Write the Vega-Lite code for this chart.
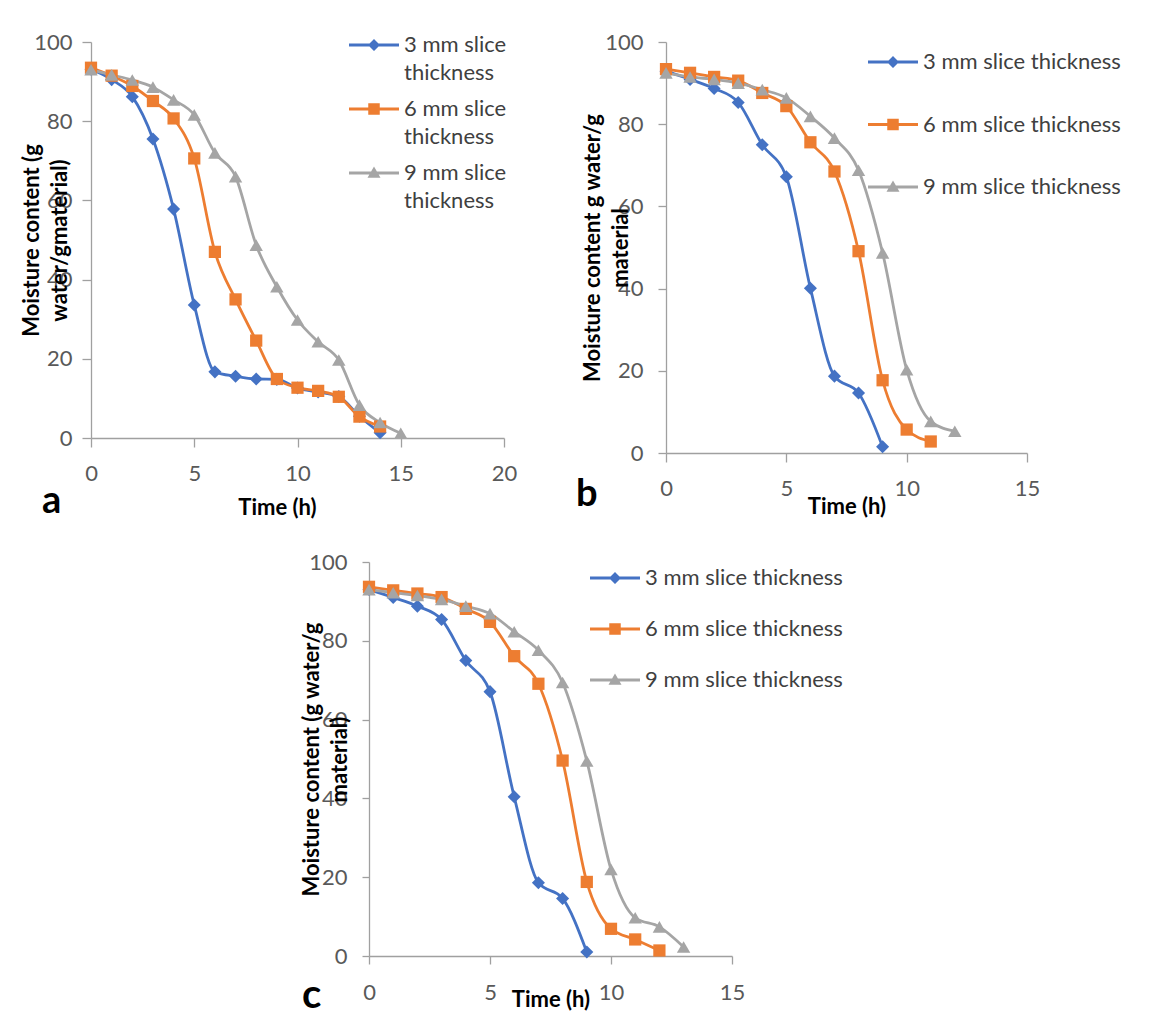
{
  "$schema": "https://vega.github.io/schema/vega-lite/v6.json",
  "background": "white",
  "padding": {"left": 20, "top": 20, "right": 5, "bottom": 5},
  "config": {
    "font": "Lato",
    "view": {"stroke": null},
    "axis": {"grid": false, "domainColor": "#a0a0a0", "tickColor": "#a0a0a0", "domainWidth": 1.3, "tickWidth": 1.3, "labelColor": "#595959", "labelFontSize": 22, "labelFont": "Lato", "titleFont": "Lato", "titleFontSize": 22, "titleFontWeight": "bold", "titleColor": "#000000", "tickSize": 9, "labelFlush": false, "labelOverlap": false, "titleLineHeight": 28},
    "legend": {"labelFont": "Lato", "labelFontSize": 22, "labelColor": "#404040", "padding": 0, "symbolSize": 2500, "symbolStrokeWidth": 0, "labelOffset": 5, "title": null, "labelLimit": 400},
    "title": {"font": "Lato", "fontWeight": "bold", "color": "#000000"}
  },
  "datasets": {
    "d": [
      {"panel": "a", "series": "3 mm slice thickness", "t": 0, "mc": 93.1},
      {"panel": "a", "series": "3 mm slice thickness", "t": 1, "mc": 90.5},
      {"panel": "a", "series": "3 mm slice thickness", "t": 2, "mc": 86.2},
      {"panel": "a", "series": "3 mm slice thickness", "t": 3, "mc": 75.5},
      {"panel": "a", "series": "3 mm slice thickness", "t": 4, "mc": 57.8},
      {"panel": "a", "series": "3 mm slice thickness", "t": 5, "mc": 33.6},
      {"panel": "a", "series": "3 mm slice thickness", "t": 6, "mc": 16.7},
      {"panel": "a", "series": "3 mm slice thickness", "t": 7, "mc": 15.6},
      {"panel": "a", "series": "3 mm slice thickness", "t": 8, "mc": 14.9},
      {"panel": "a", "series": "3 mm slice thickness", "t": 9, "mc": 14.8},
      {"panel": "a", "series": "3 mm slice thickness", "t": 10, "mc": 12.6},
      {"panel": "a", "series": "3 mm slice thickness", "t": 11, "mc": 11.6},
      {"panel": "a", "series": "3 mm slice thickness", "t": 12, "mc": 10.5},
      {"panel": "a", "series": "3 mm slice thickness", "t": 13, "mc": 5.5},
      {"panel": "a", "series": "3 mm slice thickness", "t": 14, "mc": 1.3},
      {"panel": "a", "series": "6 mm slice thickness", "t": 0, "mc": 93.5},
      {"panel": "a", "series": "6 mm slice thickness", "t": 1, "mc": 91.5},
      {"panel": "a", "series": "6 mm slice thickness", "t": 2, "mc": 88.9},
      {"panel": "a", "series": "6 mm slice thickness", "t": 3, "mc": 85.1},
      {"panel": "a", "series": "6 mm slice thickness", "t": 4, "mc": 80.7},
      {"panel": "a", "series": "6 mm slice thickness", "t": 5, "mc": 70.6},
      {"panel": "a", "series": "6 mm slice thickness", "t": 6, "mc": 47.0},
      {"panel": "a", "series": "6 mm slice thickness", "t": 7, "mc": 35.0},
      {"panel": "a", "series": "6 mm slice thickness", "t": 8, "mc": 24.6},
      {"panel": "a", "series": "6 mm slice thickness", "t": 9, "mc": 14.9},
      {"panel": "a", "series": "6 mm slice thickness", "t": 10, "mc": 12.7},
      {"panel": "a", "series": "6 mm slice thickness", "t": 11, "mc": 11.9},
      {"panel": "a", "series": "6 mm slice thickness", "t": 12, "mc": 10.4},
      {"panel": "a", "series": "6 mm slice thickness", "t": 13, "mc": 5.4},
      {"panel": "a", "series": "6 mm slice thickness", "t": 14, "mc": 2.9},
      {"panel": "a", "series": "9 mm slice thickness", "t": 0, "mc": 93.0},
      {"panel": "a", "series": "9 mm slice thickness", "t": 1, "mc": 91.7},
      {"panel": "a", "series": "9 mm slice thickness", "t": 2, "mc": 90.4},
      {"panel": "a", "series": "9 mm slice thickness", "t": 3, "mc": 88.6},
      {"panel": "a", "series": "9 mm slice thickness", "t": 4, "mc": 85.4},
      {"panel": "a", "series": "9 mm slice thickness", "t": 5, "mc": 81.6},
      {"panel": "a", "series": "9 mm slice thickness", "t": 6, "mc": 72.0},
      {"panel": "a", "series": "9 mm slice thickness", "t": 7, "mc": 66.0},
      {"panel": "a", "series": "9 mm slice thickness", "t": 8, "mc": 48.7},
      {"panel": "a", "series": "9 mm slice thickness", "t": 9, "mc": 38.2},
      {"panel": "a", "series": "9 mm slice thickness", "t": 10, "mc": 29.8},
      {"panel": "a", "series": "9 mm slice thickness", "t": 11, "mc": 24.3},
      {"panel": "a", "series": "9 mm slice thickness", "t": 12, "mc": 19.7},
      {"panel": "a", "series": "9 mm slice thickness", "t": 13, "mc": 8.3},
      {"panel": "a", "series": "9 mm slice thickness", "t": 14, "mc": 3.9},
      {"panel": "a", "series": "9 mm slice thickness", "t": 15, "mc": 1.2},
      {"panel": "b", "series": "3 mm slice thickness", "t": 0, "mc": 92.9},
      {"panel": "b", "series": "3 mm slice thickness", "t": 1, "mc": 90.9},
      {"panel": "b", "series": "3 mm slice thickness", "t": 2, "mc": 88.7},
      {"panel": "b", "series": "3 mm slice thickness", "t": 3, "mc": 85.3},
      {"panel": "b", "series": "3 mm slice thickness", "t": 4, "mc": 75.0},
      {"panel": "b", "series": "3 mm slice thickness", "t": 5, "mc": 67.2},
      {"panel": "b", "series": "3 mm slice thickness", "t": 6, "mc": 40.1},
      {"panel": "b", "series": "3 mm slice thickness", "t": 7, "mc": 18.7},
      {"panel": "b", "series": "3 mm slice thickness", "t": 8, "mc": 14.6},
      {"panel": "b", "series": "3 mm slice thickness", "t": 9, "mc": 1.5},
      {"panel": "b", "series": "6 mm slice thickness", "t": 0, "mc": 93.4},
      {"panel": "b", "series": "6 mm slice thickness", "t": 1, "mc": 92.5},
      {"panel": "b", "series": "6 mm slice thickness", "t": 2, "mc": 91.5},
      {"panel": "b", "series": "6 mm slice thickness", "t": 3, "mc": 90.6},
      {"panel": "b", "series": "6 mm slice thickness", "t": 4, "mc": 87.6},
      {"panel": "b", "series": "6 mm slice thickness", "t": 5, "mc": 84.4},
      {"panel": "b", "series": "6 mm slice thickness", "t": 6, "mc": 75.6},
      {"panel": "b", "series": "6 mm slice thickness", "t": 7, "mc": 68.5},
      {"panel": "b", "series": "6 mm slice thickness", "t": 8, "mc": 49.1},
      {"panel": "b", "series": "6 mm slice thickness", "t": 9, "mc": 17.7},
      {"panel": "b", "series": "6 mm slice thickness", "t": 10, "mc": 5.7},
      {"panel": "b", "series": "6 mm slice thickness", "t": 11, "mc": 2.8},
      {"panel": "b", "series": "9 mm slice thickness", "t": 0, "mc": 92.5},
      {"panel": "b", "series": "9 mm slice thickness", "t": 1, "mc": 91.5},
      {"panel": "b", "series": "9 mm slice thickness", "t": 2, "mc": 90.9},
      {"panel": "b", "series": "9 mm slice thickness", "t": 3, "mc": 90.0},
      {"panel": "b", "series": "9 mm slice thickness", "t": 4, "mc": 88.4},
      {"panel": "b", "series": "9 mm slice thickness", "t": 5, "mc": 86.4},
      {"panel": "b", "series": "9 mm slice thickness", "t": 6, "mc": 81.9},
      {"panel": "b", "series": "9 mm slice thickness", "t": 7, "mc": 76.6},
      {"panel": "b", "series": "9 mm slice thickness", "t": 8, "mc": 68.8},
      {"panel": "b", "series": "9 mm slice thickness", "t": 9, "mc": 48.7},
      {"panel": "b", "series": "9 mm slice thickness", "t": 10, "mc": 20.3},
      {"panel": "b", "series": "9 mm slice thickness", "t": 11, "mc": 7.7},
      {"panel": "b", "series": "9 mm slice thickness", "t": 12, "mc": 5.3},
      {"panel": "c", "series": "3 mm slice thickness", "t": 0, "mc": 93.0},
      {"panel": "c", "series": "3 mm slice thickness", "t": 1, "mc": 91.0},
      {"panel": "c", "series": "3 mm slice thickness", "t": 2, "mc": 88.8},
      {"panel": "c", "series": "3 mm slice thickness", "t": 3, "mc": 85.4},
      {"panel": "c", "series": "3 mm slice thickness", "t": 4, "mc": 75.0},
      {"panel": "c", "series": "3 mm slice thickness", "t": 5, "mc": 67.1},
      {"panel": "c", "series": "3 mm slice thickness", "t": 6, "mc": 40.4},
      {"panel": "c", "series": "3 mm slice thickness", "t": 7, "mc": 18.6},
      {"panel": "c", "series": "3 mm slice thickness", "t": 8, "mc": 14.6},
      {"panel": "c", "series": "3 mm slice thickness", "t": 9, "mc": 1.0},
      {"panel": "c", "series": "6 mm slice thickness", "t": 0, "mc": 93.7},
      {"panel": "c", "series": "6 mm slice thickness", "t": 1, "mc": 92.8},
      {"panel": "c", "series": "6 mm slice thickness", "t": 2, "mc": 92.0},
      {"panel": "c", "series": "6 mm slice thickness", "t": 3, "mc": 91.1},
      {"panel": "c", "series": "6 mm slice thickness", "t": 4, "mc": 88.1},
      {"panel": "c", "series": "6 mm slice thickness", "t": 5, "mc": 84.8},
      {"panel": "c", "series": "6 mm slice thickness", "t": 6, "mc": 76.1},
      {"panel": "c", "series": "6 mm slice thickness", "t": 7, "mc": 69.1},
      {"panel": "c", "series": "6 mm slice thickness", "t": 8, "mc": 49.6},
      {"panel": "c", "series": "6 mm slice thickness", "t": 9, "mc": 18.8},
      {"panel": "c", "series": "6 mm slice thickness", "t": 10, "mc": 6.9},
      {"panel": "c", "series": "6 mm slice thickness", "t": 11, "mc": 4.2},
      {"panel": "c", "series": "6 mm slice thickness", "t": 12, "mc": 1.4},
      {"panel": "c", "series": "9 mm slice thickness", "t": 0, "mc": 93.0},
      {"panel": "c", "series": "9 mm slice thickness", "t": 1, "mc": 92.2},
      {"panel": "c", "series": "9 mm slice thickness", "t": 2, "mc": 91.5},
      {"panel": "c", "series": "9 mm slice thickness", "t": 3, "mc": 90.5},
      {"panel": "c", "series": "9 mm slice thickness", "t": 4, "mc": 88.8},
      {"panel": "c", "series": "9 mm slice thickness", "t": 5, "mc": 86.9},
      {"panel": "c", "series": "9 mm slice thickness", "t": 6, "mc": 82.3},
      {"panel": "c", "series": "9 mm slice thickness", "t": 7, "mc": 77.6},
      {"panel": "c", "series": "9 mm slice thickness", "t": 8, "mc": 69.4},
      {"panel": "c", "series": "9 mm slice thickness", "t": 9, "mc": 49.5},
      {"panel": "c", "series": "9 mm slice thickness", "t": 10, "mc": 22.0},
      {"panel": "c", "series": "9 mm slice thickness", "t": 11, "mc": 9.7},
      {"panel": "c", "series": "9 mm slice thickness", "t": 12, "mc": 7.4},
      {"panel": "c", "series": "9 mm slice thickness", "t": 13, "mc": 2.3}
    ]
  },
  "resolve": {"scale": {"color": "independent"}, "legend": {"color": "independent"}},
  "center": true,
  "spacing": 30,
  "vconcat": [
    {
      "spacing": 59,
      "align": "none",
      "resolve": {"scale": {"color": "independent"}, "legend": {"color": "independent"}},
      "hconcat": [
        {
          "width": 413, "height": 396,
          "data": {"name": "d"},
          "transform": [{"filter": "datum.panel === 'a'"}],
          "title": {"text": "a", "orient": "bottom", "anchor": "start", "frame": "group", "fontSize": 38, "dx": -49, "offset": -35},
          "encoding": {
            "x": {"field": "t", "type": "quantitative", "scale": {"domain": [0, 20], "nice": false}, "axis": {"values": [0, 5, 10, 15, 20], "title": "Time (h)", "labelPadding": 16, "titlePadding": 13, "titleX": 186}},
            "y": {"field": "mc", "type": "quantitative", "scale": {"domain": [0, 100], "nice": false}, "axis": {"values": [0, 20, 40, 60, 80, 100], "title": ["Moisture content (g", "water/gmaterial)"], "labelPadding": 10, "titlePadding": -38}},
            "color": {"field": "series", "type": "nominal", "scale": {"domain": ["3 mm slice thickness", "6 mm slice thickness", "9 mm slice thickness"], "range": ["#4472C4", "#ED7D31", "#A5A5A5"]},
              "legend": {"orient": "none", "legendX": 258, "legendY": -22, "rowPadding": 0, "symbolStrokeWidth": 0,
                "labelExpr": "[slice(datum.label, 0, 10), slice(datum.label, 11)]",
                "encode": {
                  "symbols": {"update": {
                    "shape": {"signal": "datum.value === '3 mm slice thickness' ? 'M-1,-0.06H1V0.06H-1Z M0,-0.24L0.24,0L0,0.24L-0.24,0Z' : datum.value === '6 mm slice thickness' ? 'M-1,-0.06H1V0.06H-1Z M-0.23,-0.23H0.23V0.23H-0.23Z' : 'M-1,-0.06H1V0.06H-1Z M0,-0.26L0.26,0.19L-0.26,0.19Z'"},
                    "strokeWidth": {"value": 0}, "opacity": {"value": 1}, "fillOpacity": {"value": 1}}},
                  "labels": {"update": {"lineHeight": {"value": 28}}}
                }}}
          },
          "layer": [
            {"mark": {"type": "line", "interpolate": "monotone", "strokeWidth": 2.8}},
            {"transform": [{"filter": "datum.series === '3 mm slice thickness'"}], "mark": {"type": "point", "shape": "diamond", "filled": true, "opacity": 1, "size": 170}},
            {"transform": [{"filter": "datum.series === '6 mm slice thickness'"}], "mark": {"type": "point", "shape": "square", "filled": true, "opacity": 1, "size": 150}},
            {"transform": [{"filter": "datum.series === '9 mm slice thickness'"}], "mark": {"type": "point", "shape": "triangle-up", "filled": true, "opacity": 1, "size": 180}}
          ]
        },
        {
          "width": 361, "height": 411,
          "data": {"name": "d"},
          "transform": [{"filter": "datum.panel === 'b'"}],
          "title": {"text": "b", "orient": "bottom", "anchor": "start", "frame": "group", "fontSize": 38, "dx": -90, "offset": -41},
          "encoding": {
            "x": {"field": "t", "type": "quantitative", "scale": {"domain": [0, 15], "nice": false}, "axis": {"values": [0, 5, 10, 15], "title": "Time (h)", "labelPadding": 16, "titlePadding": -3}},
            "y": {"field": "mc", "type": "quantitative", "scale": {"domain": [0, 100], "nice": false}, "axis": {"values": [0, 20, 40, 60, 80, 100], "title": ["Moisture content g water/g", "material"], "labelPadding": 15, "tickSize": 8, "titlePadding": -28}},
            "color": {"field": "series", "type": "nominal", "scale": {"domain": ["3 mm slice thickness", "6 mm slice thickness", "9 mm slice thickness"], "range": ["#4472C4", "#ED7D31", "#A5A5A5"]},
              "legend": {"orient": "none", "legendX": 202, "legendY": -5, "rowPadding": 26.5, "symbolStrokeWidth": 0,
                "encode": {
                  "symbols": {"update": {
                    "shape": {"signal": "datum.value === '3 mm slice thickness' ? 'M-1,-0.06H1V0.06H-1Z M0,-0.24L0.24,0L0,0.24L-0.24,0Z' : datum.value === '6 mm slice thickness' ? 'M-1,-0.06H1V0.06H-1Z M-0.23,-0.23H0.23V0.23H-0.23Z' : 'M-1,-0.06H1V0.06H-1Z M0,-0.26L0.26,0.19L-0.26,0.19Z'"},
                    "strokeWidth": {"value": 0}, "opacity": {"value": 1}, "fillOpacity": {"value": 1}}}
                }}}
          },
          "layer": [
            {"mark": {"type": "line", "interpolate": "monotone", "strokeWidth": 2.8}},
            {"transform": [{"filter": "datum.series === '3 mm slice thickness'"}], "mark": {"type": "point", "shape": "diamond", "filled": true, "opacity": 1, "size": 170}},
            {"transform": [{"filter": "datum.series === '6 mm slice thickness'"}], "mark": {"type": "point", "shape": "square", "filled": true, "opacity": 1, "size": 150}},
            {"transform": [{"filter": "datum.series === '9 mm slice thickness'"}], "mark": {"type": "point", "shape": "triangle-up", "filled": true, "opacity": 1, "size": 180}}
          ]
        }
      ]
    },
    {
      "width": 363, "height": 394,
      "data": {"name": "d"},
      "transform": [{"filter": "datum.panel === 'c'"}],
      "title": {"text": "c", "orient": "bottom", "anchor": "start", "frame": "group", "fontSize": 40, "dx": -67, "offset": -34},
      "encoding": {
        "x": {"field": "t", "type": "quantitative", "scale": {"domain": [0, 15], "nice": false}, "axis": {"values": [0, 5, 10, 15], "title": "Time (h)", "labelPadding": 18, "titlePadding": -14, "tickSize": 8}},
        "y": {"field": "mc", "type": "quantitative", "scale": {"domain": [0, 100], "nice": false}, "axis": {"values": [0, 20, 40, 60, 80, 100], "title": ["Moisture content (g water/g", "material)"], "labelPadding": 15, "tickSize": 7, "titlePadding": -43}},
        "color": {"field": "series", "type": "nominal", "scale": {"domain": ["3 mm slice thickness", "6 mm slice thickness", "9 mm slice thickness"], "range": ["#4472C4", "#ED7D31", "#A5A5A5"]},
          "legend": {"orient": "none", "legendX": 221, "legendY": -9, "rowPadding": 15, "symbolStrokeWidth": 0,
            "encode": {
              "symbols": {"update": {
                "shape": {"signal": "datum.value === '3 mm slice thickness' ? 'M-1,-0.06H1V0.06H-1Z M0,-0.24L0.24,0L0,0.24L-0.24,0Z' : datum.value === '6 mm slice thickness' ? 'M-1,-0.06H1V0.06H-1Z M-0.23,-0.23H0.23V0.23H-0.23Z' : 'M-1,-0.06H1V0.06H-1Z M0,-0.26L0.26,0.19L-0.26,0.19Z'"},
                "strokeWidth": {"value": 0}, "opacity": {"value": 1}, "fillOpacity": {"value": 1}}}
            }}}
      },
      "layer": [
        {"mark": {"type": "line", "interpolate": "monotone", "strokeWidth": 2.8}},
        {"transform": [{"filter": "datum.series === '3 mm slice thickness'"}], "mark": {"type": "point", "shape": "diamond", "filled": true, "opacity": 1, "size": 170}},
        {"transform": [{"filter": "datum.series === '6 mm slice thickness'"}], "mark": {"type": "point", "shape": "square", "filled": true, "opacity": 1, "size": 150}},
        {"transform": [{"filter": "datum.series === '9 mm slice thickness'"}], "mark": {"type": "point", "shape": "triangle-up", "filled": true, "opacity": 1, "size": 180}}
      ]
    }
  ]
}
